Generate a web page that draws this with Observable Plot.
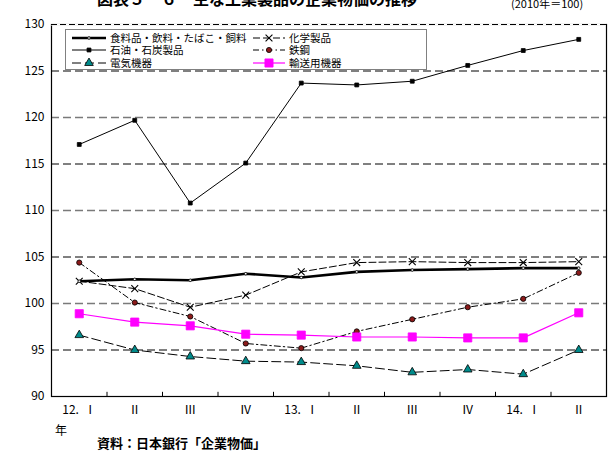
<!DOCTYPE html>
<html><head><meta charset="utf-8">
<script src="https://cdn.jsdelivr.net/npm/d3@7"></script>
<script src="https://cdn.jsdelivr.net/npm/@observablehq/plot@0.6"></script>
<style>
body{margin:0;background:#fff;font-family:"Noto Sans CJK JP","Noto Sans",sans-serif;}
#wrap{position:relative;width:609px;height:452px;overflow:hidden;}
.abs{position:absolute;white-space:nowrap;color:#000;}
#legend{position:absolute;left:65px;top:29px;width:360px;height:39px;border:1px solid #808080;background:#fff;font-size:10.5px;}
.li{position:absolute;display:flex;align-items:center;height:12px;line-height:12px;}
.li svg{margin-right:4px;flex:none;}
</style></head>
<body>
<div id="wrap">
  <div class="abs" style="left:97px;top:-10px;font-size:16px;line-height:16px;font-weight:bold;">図表５－６　主な工業製品の企業物価の推移</div>
  <div class="abs" style="left:511px;top:-2px;font-size:11px;line-height:11px;">(2010年＝100)</div>
  <div id="chart"></div>
  <div id="legend"></div>
  <div class="abs" style="left:55px;top:423px;font-size:12px;line-height:14px;">年</div>
  <div class="abs" style="left:97px;top:435px;font-size:13px;line-height:15px;font-weight:bold;">資料：日本銀行「企業物価」</div>
</div>
<script>
const quarters = ["12.\u00a0\u00a0Ⅰ","Ⅱ","Ⅲ","Ⅳ","13.\u00a0\u00a0Ⅰ","Ⅱ","Ⅲ","Ⅳ","14.\u00a0\u00a0Ⅰ","Ⅱ"];
const seriesNames = ["食料品・飲料・たばこ・飼料","化学製品","石油・石炭製品","鉄鋼","電気機器","輸送用機器"];
const food      = [102.4,102.6,102.5,103.2,102.8,103.4,103.6,103.7,103.8,103.8];
const chemical  = [102.4,101.6,99.6,100.9,103.4,104.4,104.5,104.4,104.4,104.5];
const petroleum = [117.1,119.7,110.8,115.1,123.7,123.5,123.9,125.6,127.2,128.4];
const steel     = [104.4,100.1,98.6,95.7,95.2,97.0,98.3,99.6,100.5,103.3];
const electric  = [96.6,95.0,94.3,93.8,93.7,93.3,92.6,92.9,92.4,95.0];
const transport = [98.9,98.0,97.6,96.7,96.6,96.4,96.4,96.3,96.3,99.0];
const yTicks = [90,95,100,105,110,115,120,125,130];

const styles = [
  {stroke:"#000", sw:2.6, dash:null, symbol:"circle", r:1.3, fill:"#fff", mstroke:"#000"},
  {stroke:"#000", sw:1, dash:"7,3", symbol:"times", r:3.2, fill:"none", mstroke:"#000"},
  {stroke:"#000", sw:1, dash:null, symbol:"square", r:2.2, fill:"#000", mstroke:"#000"},
  {stroke:"#000", sw:1, dash:"6,3,1.5,3", symbol:"circle", r:2.6, fill:"#8b1a1a", mstroke:"#000"},
  {stroke:"#000", sw:1, dash:"9,4", symbol:"triangle", r:3.2, fill:"#008b8b", mstroke:"#000"},
  {stroke:"#ff00ff", sw:1.2, dash:null, symbol:"square", r:4.6, fill:"#ff00ff", mstroke:"#ff00ff"}
];
const allValues = [food, chemical, petroleum, steel, electric, transport];
const idx = quarters.map((_, i) => i);
const tables = allValues.map((vals, s) => vals.map((v, i) => ({i, v, s: seriesNames[s]})));
const bounds = idx.slice(1).map(i => i - 0.5);

const marks = [
  Plot.ruleY(yTicks.filter(t => t > 90 && t < 130), {
    stroke: d => (d % 10 === 5 ? "#000" : "#7a7a7a"),
    strokeWidth: d => (d % 10 === 5 ? 1 : 1.5),
    strokeDasharray: "8,4"
  }),
  Plot.frame({stroke: "#000", strokeWidth: 1.2}),
  Plot.ruleY([130], {stroke: "#fff", strokeWidth: 2}),
  Plot.ruleY([130], {stroke: "#000", strokeWidth: 1, strokeDasharray: "6,3"}),
  Plot.ruleX(bounds, {y1: 90, y2: 90.45, stroke: "#000", strokeWidth: 1}),
  Plot.axisY({ticks: yTicks, tickSize: 0, tickPadding: 7, fontSize: 12, label: null}),
  Plot.axisX({ticks: idx, tickSize: 0, tickPadding: 9, fontSize: 12, tickFormat: i => quarters[i], label: null})
];
[2,1,0,3,4,5].forEach(s => {
  const st = styles[s];
  marks.push(Plot.line(tables[s], {x: "i", y: "v", stroke: st.stroke, strokeWidth: st.sw, strokeDasharray: st.dash}));
});
[2,1,0,3,4,5].forEach(s => {
  const st = styles[s];
  marks.push(Plot.dot(tables[s], {x: "i", y: "v", symbol: st.symbol, r: st.r, fill: st.fill, stroke: st.mstroke, strokeWidth: st.symbol === "times" ? 1.1 : 0.8}));
});

const chart = Plot.plot({
  width: 609, height: 452,
  marginTop: 24, marginBottom: 56, marginLeft: 51, marginRight: 3,
  style: {fontFamily: '"Noto Sans CJK JP","Noto Sans",sans-serif', fontSize: "12px", color: "#000", background: "#fff"},
  x: {type: "linear", domain: [-0.5, quarters.length - 0.5], axis: null},
  y: {domain: [90, 130], axis: null},
  marks
});
document.getElementById("chart").appendChild(chart);

// legend (inside plot area)
const legend = document.getElementById("legend");
const pos = [[0,0],[1,0],[0,1],[1,1],[0,2],[1,2]];
const colX = [6, 187], rowY = [1.5, 14, 26.5];
const swW = [34, 32];
const symMap = {circle: d3.symbolCircle, square: d3.symbolSquare, triangle: d3.symbolTriangle, times: d3.symbolTimes};
seriesNames.forEach((name, s) => {
  const st = styles[s];
  const [c, r] = pos[s];
  const w = swW[c];
  const div = document.createElement("div");
  div.className = "li";
  div.style.left = colX[c] + "px";
  div.style.top = rowY[r] + "px";
  const svg = d3.create("svg").attr("width", w).attr("height", 12);
  svg.append("line").attr("x1", 0).attr("x2", w).attr("y1", 6).attr("y2", 6)
    .attr("stroke", st.stroke).attr("stroke-width", st.sw)
    .attr("stroke-dasharray", st.dash);
  svg.append("path").attr("transform", `translate(${w/2},6)`)
    .attr("d", d3.symbol(symMap[st.symbol], Math.PI * st.r * st.r)())
    .attr("fill", st.fill).attr("stroke", st.mstroke).attr("stroke-width", st.symbol === "times" ? 1.1 : 0.8);
  div.appendChild(svg.node());
  const span = document.createElement("span");
  span.textContent = name;
  div.appendChild(span);
  legend.appendChild(div);
});
</script>
</body></html>
